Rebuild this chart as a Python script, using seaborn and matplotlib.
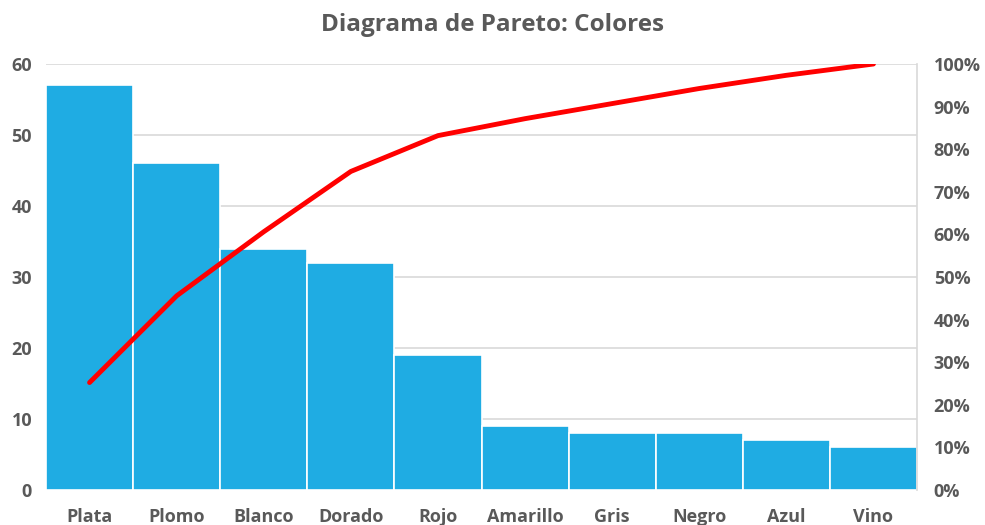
import numpy as np
import pandas as pd
import matplotlib
matplotlib.use("Agg")
import matplotlib.pyplot as plt
import seaborn as sns
from matplotlib.ticker import PercentFormatter

colores = ["Plata", "Plomo", "Blanco", "Dorado", "Rojo",
           "Amarillo", "Gris", "Negro", "Azul", "Vino"]
frecuencia = [57, 46, 34, 32, 19, 9, 8, 8, 7, 6]

df = pd.DataFrame({"Color": colores, "Frecuencia": frecuencia})
df["Acumulado"] = df["Frecuencia"].cumsum() / df["Frecuencia"].sum()

sns.set_style("white")
plt.rcParams["font.family"] = ["Open Sans", "DejaVu Sans"]

txt = "#595959"
grid = "#D9D9D9"

fig = plt.figure(figsize=(9.85, 5.25), dpi=100)
ax = fig.add_axes([46 / 985, 1 - 490 / 525, 871 / 985, 426 / 525])

sns.barplot(data=df, x="Color", y="Frecuencia", color="#1FACE3",
            saturation=1, width=1.0, edgecolor="white", linewidth=1.2, ax=ax)
ax.set_xlim(-0.5, len(colores) - 0.5)
ax.set_ylim(0, 60)
ax.set_yticks(range(0, 61, 10))
ax.yaxis.grid(True, color=grid, linewidth=1.2)
ax.set_axisbelow(True)
ax.set_xlabel("")
ax.set_ylabel("")
for s in ["top", "left", "bottom"]:
    ax.spines[s].set_visible(False)
ax.spines["right"].set_color(grid)
ax.spines["right"].set_linewidth(1.2)
ax.tick_params(axis="both", length=0, colors=txt, labelsize=13)
ax.tick_params(axis="x", pad=13)
ax.tick_params(axis="y", pad=10)
for lab in ax.get_xticklabels() + ax.get_yticklabels():
    lab.set_fontweight("bold")

ax2 = ax.twinx()
sns.lineplot(x=np.arange(len(colores)), y=df["Acumulado"].values,
             color="#FF0000", linewidth=3.5, ax=ax2)
ax2.set_ylim(0, 1)
ax2.set_yticks(np.arange(0, 1.01, 0.1))
ax2.yaxis.set_major_formatter(PercentFormatter(1.0, decimals=0))
ax2.tick_params(axis="y", length=0, colors=txt, labelsize=13, pad=12)
for lab in ax2.get_yticklabels():
    lab.set_fontweight("bold")
for s in ax2.spines.values():
    s.set_visible(False)

fig.text(0.5, 1 - 25 / 525, "Diagrama de Pareto: Colores", ha="center", va="center",
         fontsize=17.5, fontweight="bold", color=txt)

fig.savefig("out.png", dpi=100)
